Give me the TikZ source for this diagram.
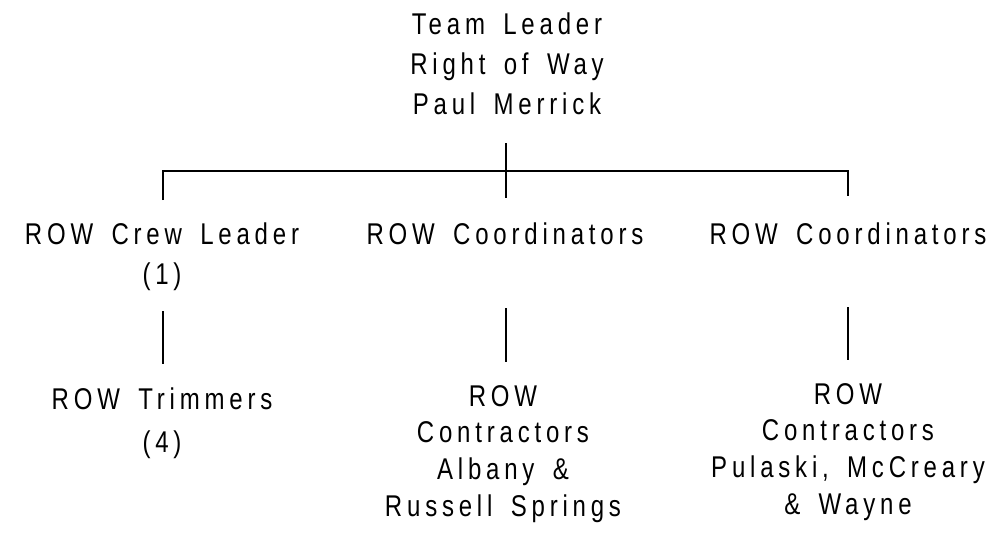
\documentclass[tikz,border=0pt]{standalone}
\usepackage{fontspec}
\setmainfont{Liberation Sans}[LetterSpace=16,FakeStretch=0.8,WordSpace=1.6]
\begin{document}
\begin{tikzpicture}[x=1pt,y=-1pt,
  lbl/.style={inner sep=0pt, anchor=north, align=center, text=black},
  sp40/.style={font=\fontsize{30pt}{40pt}\selectfont},
  sp37/.style={font=\fontsize{30pt}{36.7pt}\selectfont},
  sp43/.style={font=\fontsize{30pt}{43pt}\selectfont},
  conn/.style={draw=black, line width=1.4pt}]
\useasboundingbox (0,0) rectangle (996,544);
% nodes
\node[lbl,sp40] (top) at (507,13) {Team Leader\\Right of Way\\Paul Merrick};
\node[lbl,sp40] (c1) at (162,223) {ROW Crew Leader\\(1)};
\node[lbl,sp40] (c2) at (505,223) {ROW Coordinators};
\node[lbl,sp40] (c3) at (848,223) {ROW Coordinators};
\node[lbl,sp43] (d1) at (162,388) {ROW Trimmers\\(4)};
\node[lbl,sp37] (d2) at (503,385) {ROW\\Contractors\\Albany \&\\Russell Springs};
\node[lbl,sp37] (d3) at (848,383) {ROW\\Contractors\\Pulaski, McCreary\\\& Wayne};
% connector points
\coordinate (tS) at (506,143);
\coordinate (tE) at (506,198);
\coordinate (bL) at (163,171);
\coordinate (bR) at (848,171);
\coordinate (eL) at (163,200);
\coordinate (eR) at (848,196);
\coordinate (a1) at (163,311);
\coordinate (b1) at (163,364);
\coordinate (a2) at (506,308);
\coordinate (b2) at (506,362);
\coordinate (a3) at (848,307);
\coordinate (b3) at (848,360);
% connectors
\draw[conn] (tS) -- (tE);
\draw[conn] (eL) -- (bL) -- (bR) -- (eR);
\draw[conn] (a1) -- (b1);
\draw[conn] (a2) -- (b2);
\draw[conn] (a3) -- (b3);
\end{tikzpicture}
\end{document}
